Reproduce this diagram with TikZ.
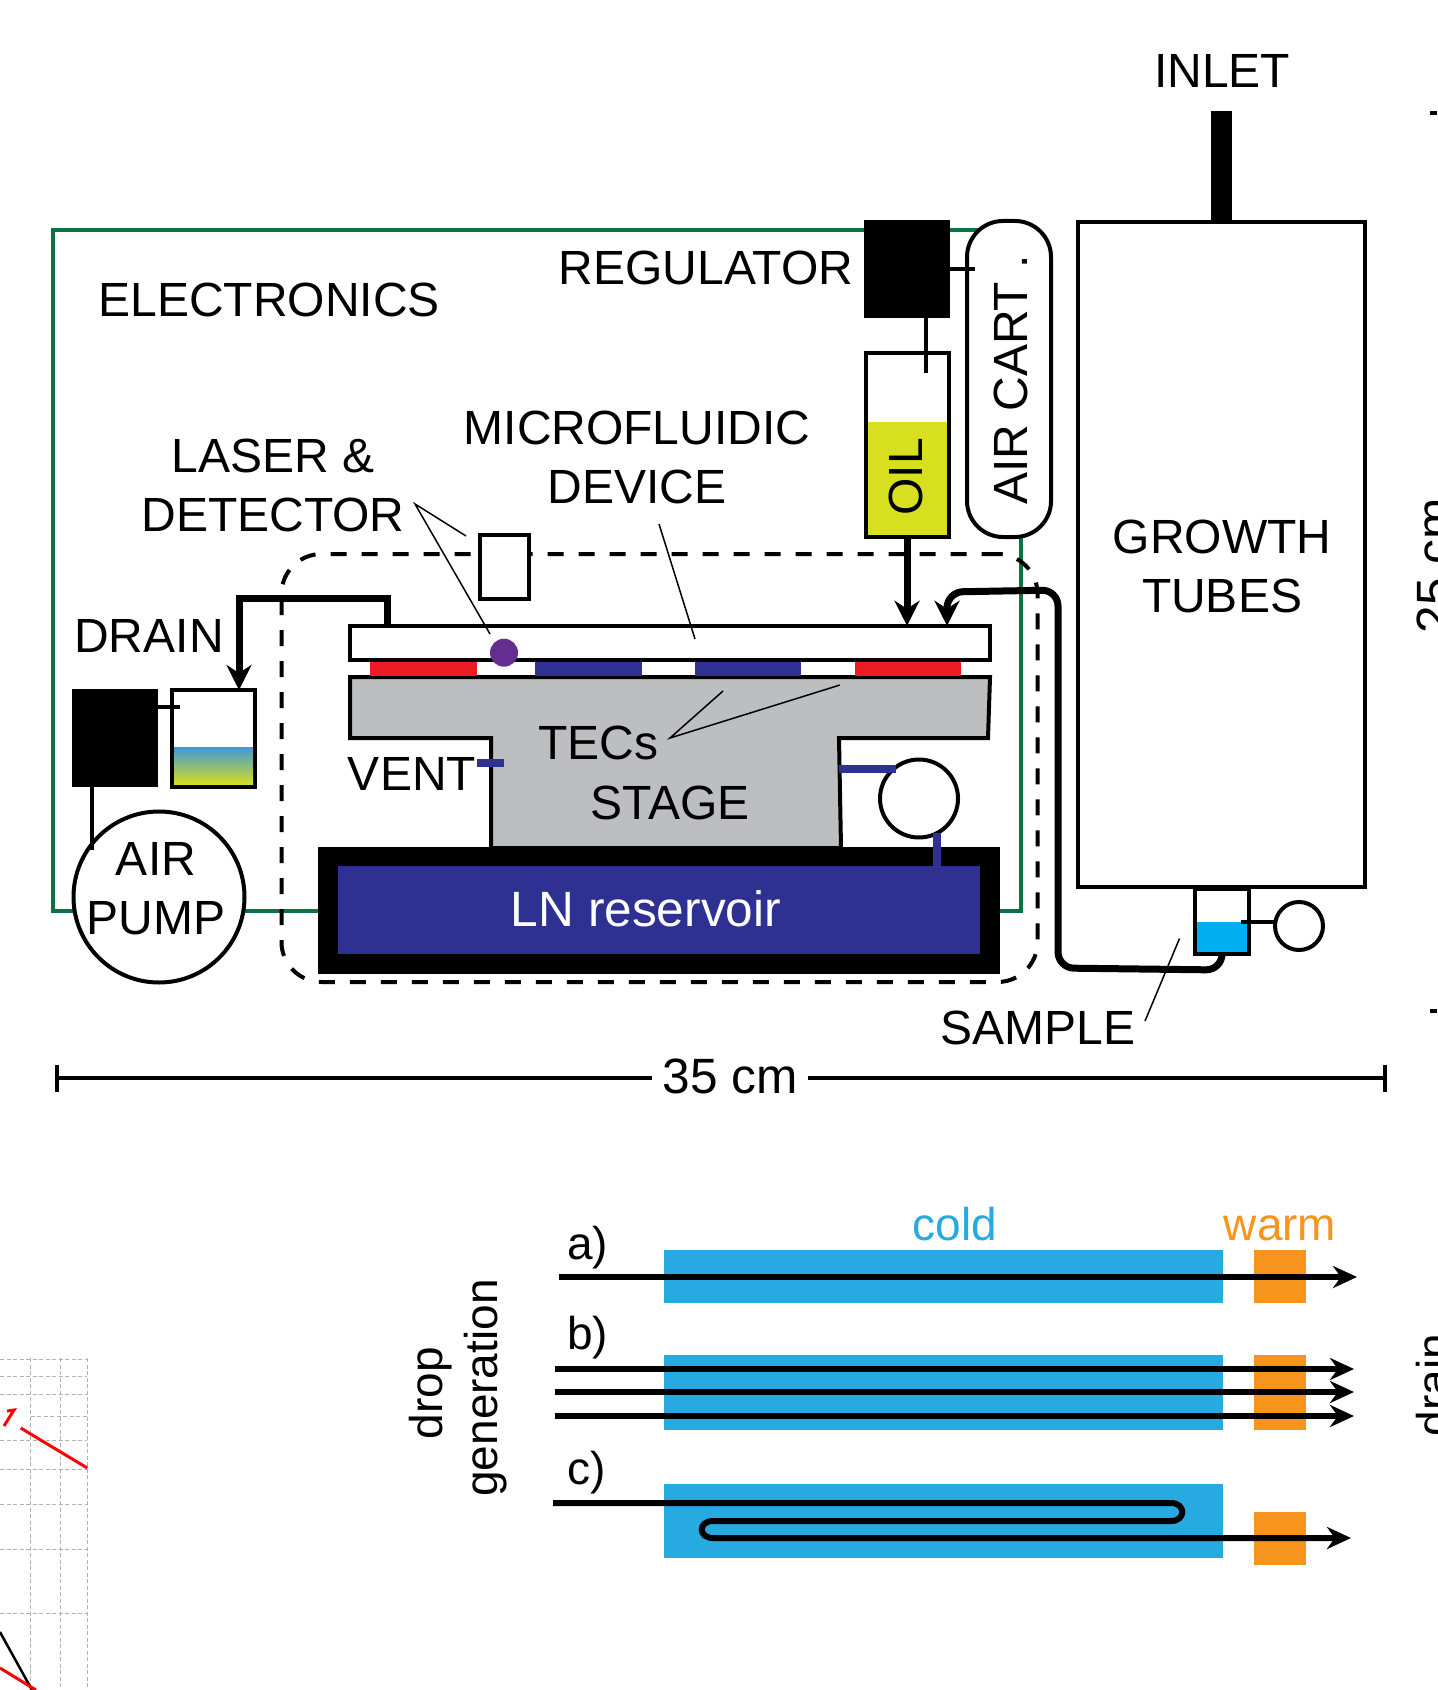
\documentclass[tikz,border=0pt]{standalone}
\usepackage{fontspec}
\setmainfont{Liberation Sans}
\usetikzlibrary{arrows.meta}

\newlength{\du}
\setlength{\du}{0.5pt}

\tikzset{
  partbox/.style={rectangle,draw=black,line width=4\du,inner sep=0pt,outer sep=0pt},
  blackbox/.style={rectangle,fill=black,inner sep=0pt,outer sep=0pt},
  tintbox/.style={rectangle,inner sep=0pt,outer sep=0pt},
  roundpart/.style={circle,draw=black,fill=white,line width=4\du,inner sep=0pt,outer sep=0pt},
  hosetube/.style={line width=7\du,-{Stealth[length=12.5pt,width=12.5pt]}},
  flowline/.style={line width=6\du,-{Stealth[length=12pt,width=11pt]}},
  thinpipe/.style={line width=3.5\du},
  ventpipe/.style={line width=8\du,draw=ventblue},
  leaderline/.style={line width=1.5\du},
  dimline/.style={line width=4\du},
  bigtext/.style={font=\fontsize{24}{29.5}\selectfont,align=center,inner sep=0pt,outer sep=0pt},
  largetext/.style={font=\fontsize{24.8}{24.8}\selectfont,inner sep=0pt,outer sep=0pt},
  smalltext/.style={font=\fontsize{23}{23}\selectfont,inner sep=0pt,outer sep=0pt},
  gridline/.style={line width=0.9\du,draw=black!30,dash pattern=on 4\du off 2.5\du},
  redline/.style={line width=3\du,draw=plotred}
}

\begin{document}
\begin{tikzpicture}
\pgftransformyscale{-1.000000}
\definecolor{ventblue}{rgb}{0.180000, 0.192000, 0.573000}
\definecolor{tecred}{rgb}{0.929000, 0.110000, 0.141000}
\definecolor{casegreen}{rgb}{0.040000, 0.450000, 0.260000}
\definecolor{stagegray}{rgb}{0.737000, 0.745000, 0.753000}
\definecolor{oilyellow}{rgb}{0.843000, 0.875000, 0.122000}
\definecolor{waterblue}{rgb}{0.000000, 0.682000, 0.937000}
\definecolor{drainblue}{rgb}{0.250000, 0.600000, 0.840000}
\definecolor{dotpurple}{rgb}{0.400000, 0.176000, 0.569000}
\definecolor{coldblue}{rgb}{0.153000, 0.667000, 0.882000}
\definecolor{warmorange}{rgb}{0.969000, 0.580000, 0.118000}
\definecolor{plotred}{rgb}{1.000000, 0.000000, 0.000000}
\useasboundingbox (0\du,0\du) rectangle (1437\du,1690\du);

% plot fragment
\foreach \gridx in {30.7,60.7,87.3}
  \draw[gridline] (\gridx\du,1358\du) -- (\gridx\du,1690\du);
\foreach \gridy in {1359,1376,1394,1440,1469,1504,1549,1613}
  \draw[gridline] (0\du,\gridy\du) -- (87.3\du,\gridy\du);
\draw[gridline] (30.7\du,1416\du) -- (87.3\du,1416\du);
\draw[redline] (20.7\du,1428\du) -- (87.3\du,1468\du);
\draw[redline] (4\du,1426\du) -- (14\du,1410\du) -- (7\du,1411\du);
\draw[line width=2.5\du] (0\du,1632\du) -- (32\du,1690\du);
\draw[redline] (0\du,1668\du) -- (36\du,1690\du);

% case and enclosure
\draw[line width=3.5\du,casegreen] (985\du,230\du) -- (53\du,230\du) -- (53\du,911\du) -- (1021\du,911\du) -- (1021\du,525\du);
\node[rectangle,rounded corners=40\du,draw=black,dash pattern=on 16\du off 15\du,line width=4\du,minimum width=756\du,minimum height=428\du,inner sep=0pt,outer sep=0pt] (chamber) at (659.5\du,768\du){};

% regulator, oil, air cartridge
\node[blackbox,minimum width=86\du,minimum height=98\du] (regulator) at (907\du,269\du){};
\node[partbox,fill=white,minimum width=83\du,minimum height=184\du] (oilbox) at (907\du,445\du){};
\node[tintbox,fill=oilyellow,minimum width=79\du,minimum height=113\du] (oilfill) at (907\du,478.5\du){};
\node[partbox,fill=white,rounded corners=36\du,minimum width=84\du,minimum height=316\du] (aircart) at (1009\du,379\du){};
\coordinate (regwest) at (975\du,269\du);
\draw[thinpipe] (regulator.east) -- (regwest);
\coordinate (oildip) at (926\du,373\du);
\draw[thinpipe] (regulator.south -| oildip) -- (oildip);
\node[bigtext,rotate=90] (oillabel) at (906\du,477\du){OIL};
\node[bigtext,rotate=90] (cartlabel) at (1011\du,380\du){AIR CART .};
\node[bigtext,anchor=east] (reglabel) at (853\du,268\du){REGULATOR};
\node[bigtext] (caselabel) at (269\du,300\du){ELECTRONICS};

% growth tubes and sample
\node[partbox,fill=white,minimum width=286.5\du,minimum height=665\du] (growth) at (1221.25\du,554.5\du){};
\node[blackbox,minimum width=21\du,minimum height=111\du] (inletpipe) at (1221.5\du,166.5\du){};
\node[bigtext] (inletlabel) at (1222\du,71\du){INLET};
\node[bigtext] (growthlabel) at (1222\du,566\du){GROWTH\\TUBES};
\node[partbox,fill=white,minimum width=54\du,minimum height=65\du] (samplebox) at (1222\du,921.5\du){};
\node[tintbox,fill=waterblue,minimum width=50\du,minimum height=30\du] (samplefill) at (1222\du,937\du){};
\node[roundpart,minimum size=48\du] (samplepump) at (1299\du,926\du){};
\coordinate (sampletap) at (1241\du,922\du);
\draw[thinpipe] (sampletap) -- (sampletap -| samplepump.west);
\node[bigtext] (samplelabel) at (1038\du,1028\du){SAMPLE};
\coordinate (sampletipa) at (1179.5\du,938.5\du);
\coordinate (sampletipb) at (1145\du,1021\du);
\draw[leaderline] (sampletipa) -- (sampletipb);

% stage, TECs, device
\draw[line width=4\du,fill=stagegray] (350\du,677\du)--(990\du,677\du)--(988\du,738\du)--(839\du,738\du)--(841\du,848\du)--(491\du,848\du)--(491\du,738\du)--(350\du,738\du)--cycle;
\node[tintbox,fill=tecred,minimum width=106.6\du,minimum height=14\du] (teca) at (423.3\du,668.75\du){};
\node[tintbox,fill=ventblue,minimum width=107\du,minimum height=14\du] (tecb) at (588.5\du,668.75\du){};
\node[tintbox,fill=ventblue,minimum width=106\du,minimum height=14\du] (tecc) at (748\du,668.75\du){};
\node[tintbox,fill=tecred,minimum width=106\du,minimum height=14\du] (tecd) at (908\du,668.75\du){};
\node[partbox,fill=white,minimum width=640\du,minimum height=34.5\du] (device) at (670\du,643\du){};
\node[circle,fill=dotpurple,minimum size=28\du,inner sep=0pt,outer sep=0pt] (dropdot) at (504\du,652.7\du){};
\node[partbox,fill=white,minimum width=49\du,minimum height=64\du] (laserbox) at (504.5\du,567\du){};

% reservoir
\node[blackbox,minimum width=682\du,minimum height=127\du] (lnouter) at (659\du,910.5\du){};
\node[tintbox,fill=ventblue,minimum width=642.5\du,minimum height=88\du] (lninner) at (658.75\du,910\du){};
\node[largetext,text=white] (lnlabel) at (646\du,909\du){LN reservoir};
\node[roundpart,minimum size=78\du] (ventvalve) at (919\du,798.5\du){};
\coordinate (stagetap) at (839\du,769\du);
\draw[ventpipe] (stagetap) -- (stagetap -| ventvalve.127);
\draw[ventpipe] (ventvalve.-63) -- (ventvalve.-63 |- lninner.north);
\node[tintbox,fill=ventblue,minimum width=27\du,minimum height=8\du] (ventstub) at (490.3\du,763\du){};
\node[bigtext] (ventlabel) at (412\du,774\du){VENT};
\node[bigtext] (teclabel) at (598\du,743\du){TECs};
\node[bigtext] (stagelabel) at (670\du,803\du){STAGE};

% leaders
\coordinate (laserapex) at (415\du,504\du);
\coordinate (laserboxtip) at (466\du,536\du);
\coordinate (laserdottip) at (490\du,634\du);
\draw[leaderline] (laserboxtip) -- (laserapex) -- (laserdottip);
\coordinate (devicetipa) at (659\du,524\du);
\coordinate (devicetipb) at (695\du,639\du);
\draw[leaderline] (devicetipa) -- (devicetipb);
\coordinate (tecapex) at (670\du,738\du);
\coordinate (tectipa) at (723\du,691\du);
\coordinate (tectipb) at (840\du,685\du);
\draw[leaderline] (tectipa) -- (tecapex) -- (tectipb);
\node[bigtext] (laserlabel) at (273\du,485\du){LASER \&\\DETECTOR};
\node[bigtext] (devicelabel) at (637\du,457\du){MICROFLUIDIC\\DEVICE};

% drain side
\node[blackbox,minimum width=85.5\du,minimum height=98\du] (drainreg) at (114.75\du,738\du){};
\node[partbox,fill=white,minimum width=83\du,minimum height=97\du] (drainbox) at (213.5\du,738.5\du){};
\node[tintbox,shade,top color=drainblue,bottom color=oilyellow,minimum width=79\du,minimum height=37\du] (drainfill) at (213.5\du,766\du){};
\coordinate (draintap) at (387\du,625\du);
\coordinate (drainturn) at (239\du,598\du);
\draw[hosetube] (draintap) |- (drainturn) -- (drainturn |- drainbox.north);
\node[bigtext] (drainlabel) at (149\du,636\du){DRAIN};
\coordinate (drainwest) at (180\du,707\du);
\draw[thinpipe] (drainreg.east |- drainwest) -- (drainwest);
\node[roundpart,minimum size=171\du] (airpump) at (159\du,897\du){};
\coordinate (pumptap) at (92\du,850\du);
\draw[thinpipe] (drainreg.south -| pumptap) -- (pumptap);
\node[bigtext] (pumplabel) at (156\du,889\du){AIR\\PUMP};

% hoses to the device
\draw[hosetube] (oilbox.south) -- (oilbox.south |- device.north);
\coordinate (hosea) at (1222\du,970\du);
\coordinate (hoseb) at (1058\du,968\du);
\coordinate (hosec) at (1058\du,590\du);
\coordinate (hosed) at (947\du,592\du);
\draw[hosetube,rounded corners=16\du] (samplebox.south) -- (hosea) -- (hoseb) -- (hosec) -- (hosed) -- (hosed |- device.north);

% dimensions
\node[largetext,inner xsep=10\du] (widthlabel) at (730\du,1076\du){35 cm};
\coordinate (widthleft) at (55\du,1078\du);
\coordinate (widthright) at (1387\du,1078\du);
\draw[dimline,{Bar[width=13.5pt]}-] (widthleft) -- (widthlabel.west |- widthleft);
\draw[dimline,-{Bar[width=13.5pt]}] (widthlabel.east |- widthright) -- (widthright);
\node[largetext,rotate=90] (heightlabel) at (1434\du,566\du){25 cm};
\coordinate (hticka) at (1430\du,113\du);
\coordinate (htickb) at (1430\du,1011\du);
\coordinate (hedge) at (1437\du,0\du);
\draw[dimline] (hticka) -- (hticka -| hedge);
\draw[dimline] (htickb) -- (htickb -| hedge);

% drop generation panels
\node[tintbox,fill=coldblue,minimum width=559\du,minimum height=53\du] (colda) at (943.5\du,1276.5\du){};
\node[tintbox,fill=warmorange,minimum width=52\du,minimum height=53\du] (warma) at (1280\du,1276.5\du){};
\node[tintbox,fill=coldblue,minimum width=559\du,minimum height=75\du] (coldb) at (943.5\du,1392.5\du){};
\node[tintbox,fill=warmorange,minimum width=52\du,minimum height=75\du] (warmb) at (1280\du,1392.5\du){};
\node[tintbox,fill=coldblue,minimum width=559\du,minimum height=74\du] (coldc) at (943.5\du,1521\du){};
\node[tintbox,fill=warmorange,minimum width=52\du,minimum height=53\du] (warmc) at (1280\du,1538.5\du){};
\node[smalltext,text=coldblue,anchor=base] (coldlabel) at (955\du,1240\du){cold};
\node[smalltext,text=warmorange,anchor=base] (warmlabel) at (1280\du,1240\du){warm};
\node[smalltext,anchor=base west] (rowa) at (567\du,1259\du){a)};
\node[smalltext,anchor=base west] (rowb) at (567\du,1349\du){b)};
\node[smalltext,anchor=base west] (rowc) at (567\du,1484\du){c)};
\coordinate (ina) at (559\du,1277\du);
\coordinate (outa) at (1357\du,1277\du);
\draw[flowline] (ina) -- (outa);
\coordinate (inba) at (555\du,1369\du);
\coordinate (outba) at (1354\du,1369\du);
\draw[flowline] (inba) -- (outba);
\coordinate (inbb) at (555\du,1392\du);
\coordinate (outbb) at (1354\du,1392\du);
\draw[flowline] (inbb) -- (outbb);
\coordinate (inbc) at (555\du,1416\du);
\coordinate (outbc) at (1354\du,1416\du);
\draw[flowline] (inbc) -- (outbc);
\coordinate (inc) at (553\du,1503\du);
\coordinate (outc) at (1351\du,1538\du);
\draw[flowline] (inc) -- (1171\du,1503\du) .. controls (1186\du,1503\du) and (1186\du,1521\du) .. (1171\du,1521\du) -- (713\du,1521\du) .. controls (698\du,1521\du) and (698\du,1538\du) .. (713\du,1538\du) -- (outc);
\node[smalltext,rotate=90] (droplabel) at (431\du,1393\du){drop};
\node[smalltext,rotate=90] (genlabel) at (486\du,1388\du){generation};
\node[smalltext,rotate=90] (drainside) at (1433\du,1385\du){drain};
\end{tikzpicture}
\end{document}
